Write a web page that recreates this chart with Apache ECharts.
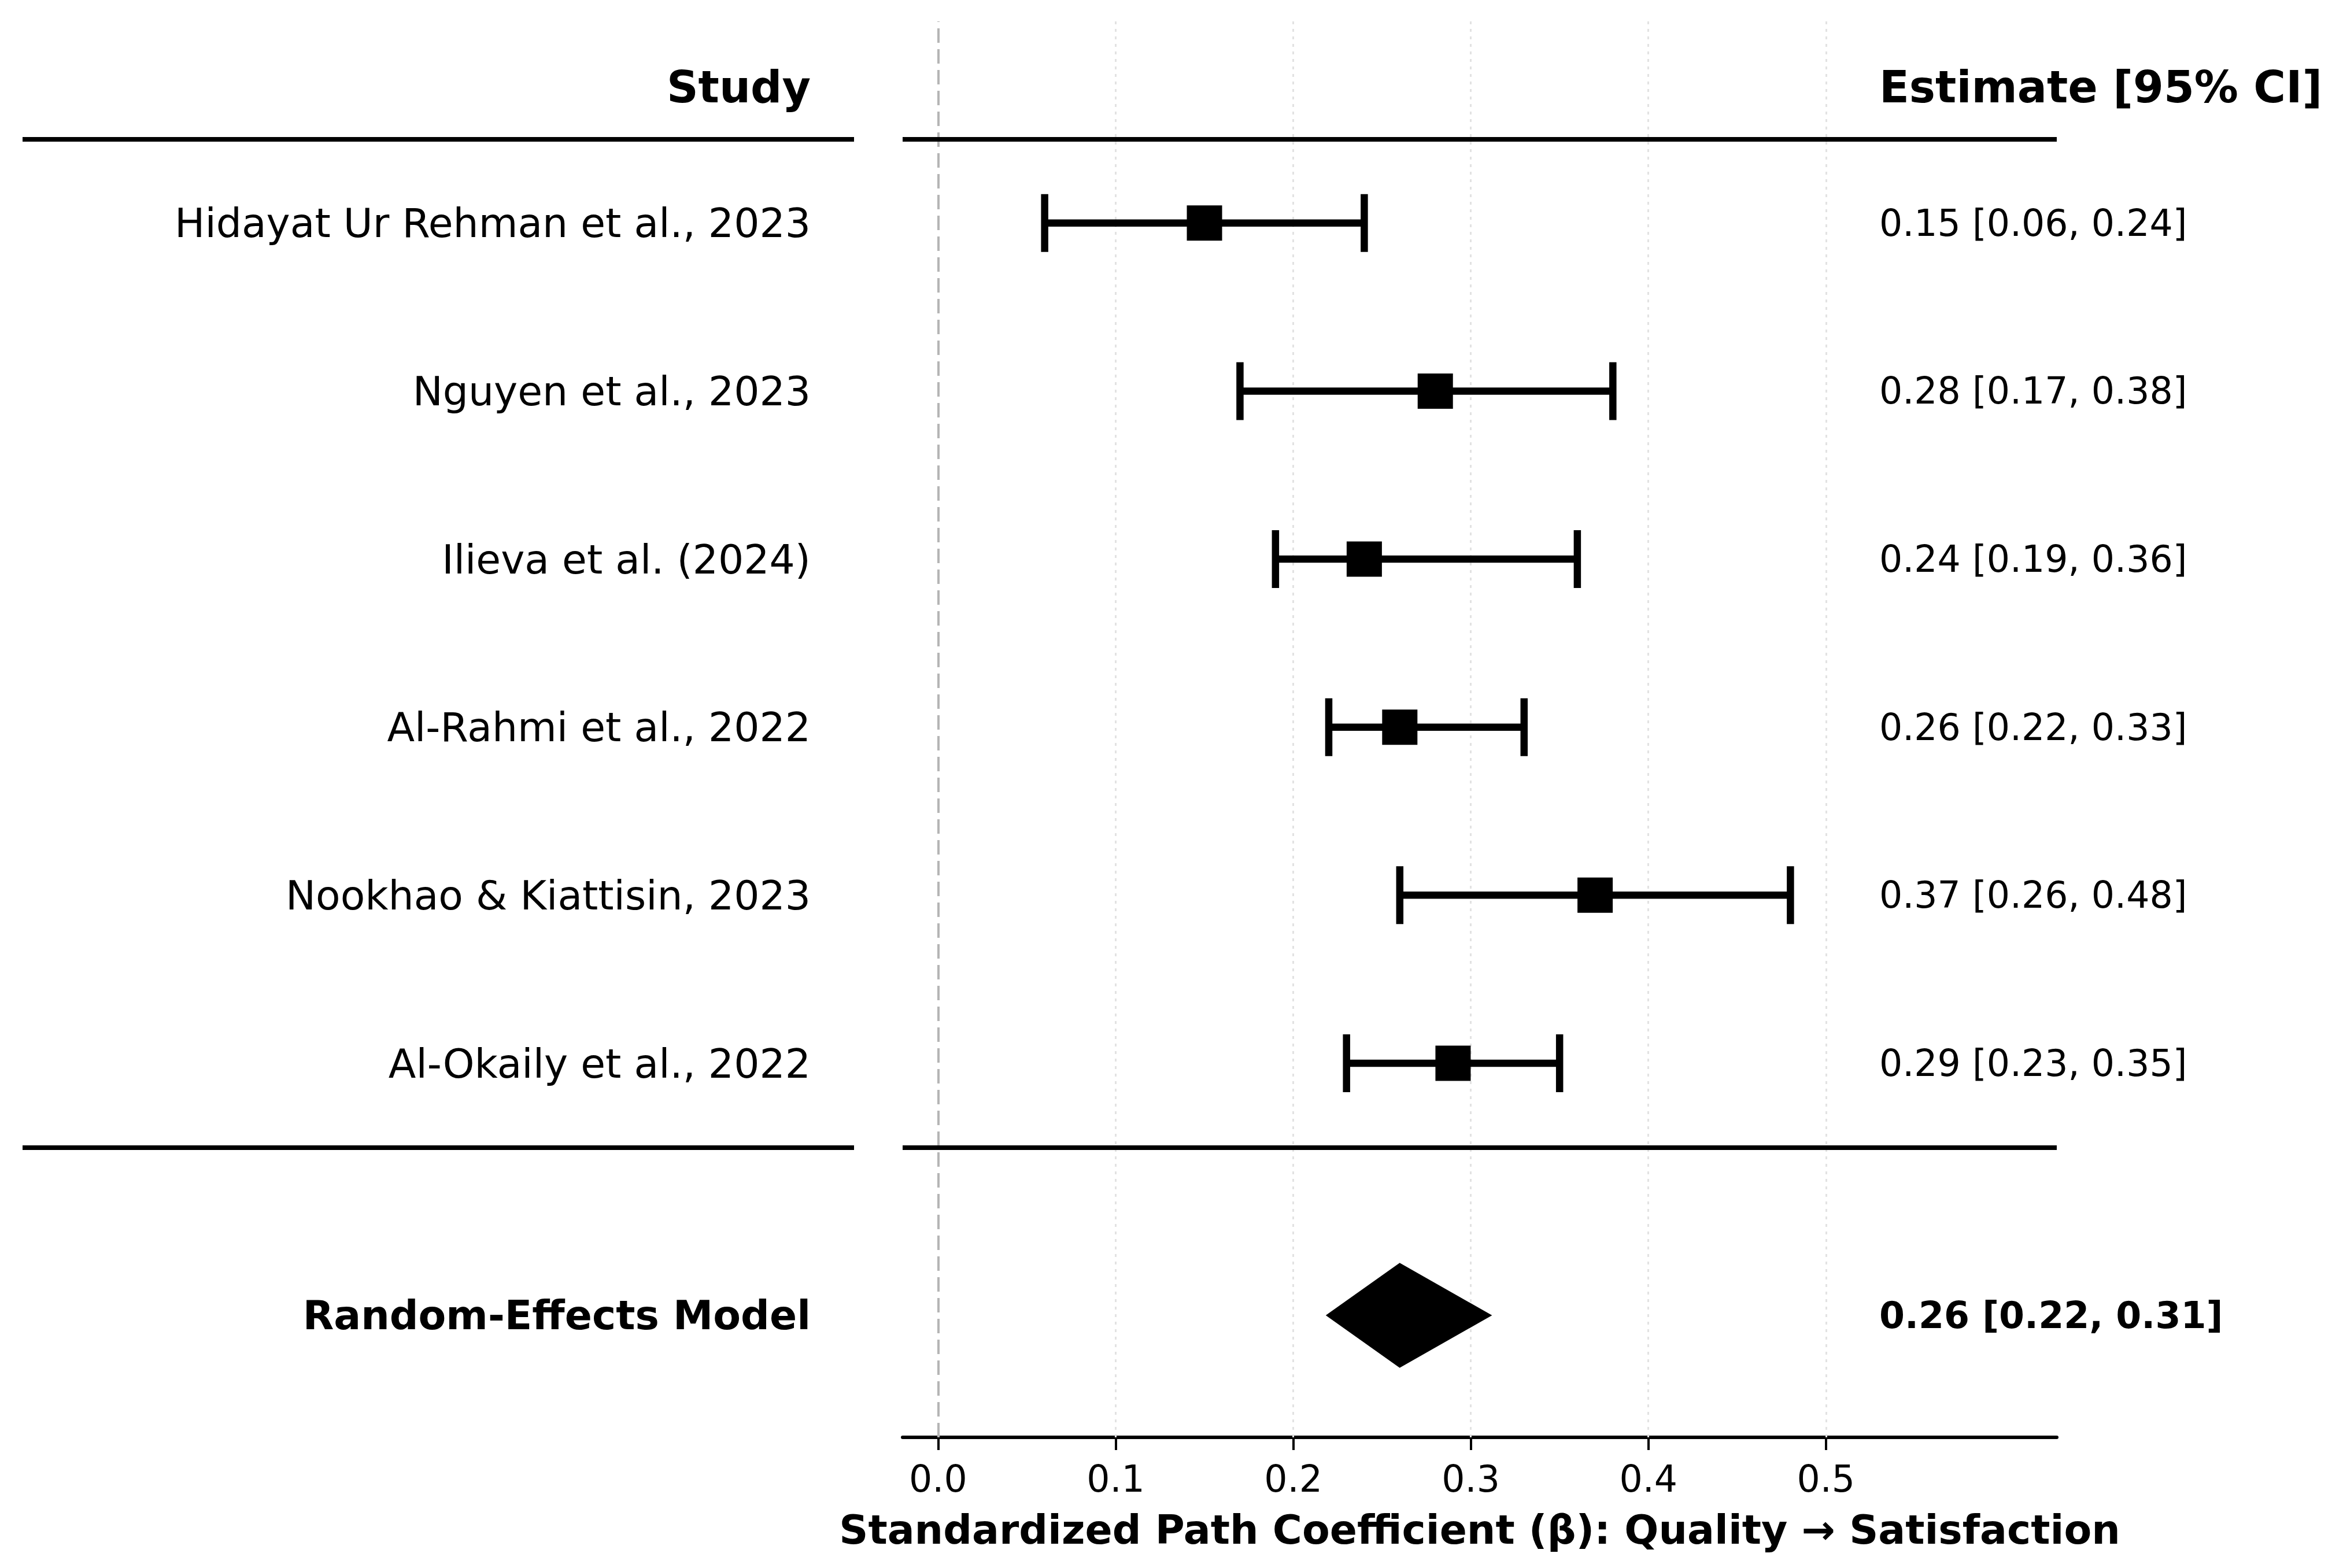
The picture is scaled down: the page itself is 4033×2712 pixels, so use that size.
<!DOCTYPE html>
<html><head><meta charset="utf-8">
<script src="https://cdn.jsdelivr.net/npm/echarts@6.0.0/dist/echarts.min.js"></script>
<style>html,body{margin:0;padding:0;background:#fff}#c{width:4033px;height:2712px}</style>
</head><body><div id="c"></div>
<script>
// ---- data ----
const studies = ['Hidayat Ur Rehman et al., 2023','Nguyen et al., 2023','Ilieva et al. (2024)','Al-Rahmi et al., 2022','Nookhao & Kiattisin, 2023','Al-Okaily et al., 2022'];
const estimates = [0.15, 0.28, 0.24, 0.26, 0.37, 0.29];
const lowerCI   = [0.06, 0.17, 0.19, 0.22, 0.26, 0.23];
const upperCI   = [0.24, 0.38, 0.36, 0.33, 0.48, 0.35];
const pooledLabel = 'Random-Effects Model';
const pooledEstimate = [0.26];
const pooledLower = [0.22];
const pooledUpper = [0.31];
const xTicks = [0.0, 0.1, 0.2, 0.3, 0.4, 0.5];
const headerStudy = 'Study';
const headerEstimate = 'Estimate [95% CI]';
const xAxisTitle = 'Standardized Path Coefficient (\u03b2): Quality \u2192 Satisfaction';

// ---- layout ----
const FONT = 'DejaVu Sans';
const F12 = 76, F11 = 69.6, F10 = 63.3;
const Y_MIN = 0.774, Y_MAX = 9.2;
const X_MIN = -0.02, X_MAX = 0.63;
const rowY = i => 8 - i;
const pooledY = 1.5;
const headerY = 8.81;
const sepYs = [8.5, 2.5];
const textX = 0.53;
const fmt = v => v.toFixed(2);
const ciText = (e, l, u) => fmt(e) + ' [' + fmt(l) + ', ' + fmt(u) + ']';

const labelMap = {};
labelMap[headerY] = '{h|' + headerStudy + '}';
studies.forEach((s, i) => { labelMap[rowY(i)] = s; });
labelMap[pooledY] = '{b|' + pooledLabel + '}';
const labelValues = [headerY].concat(studies.map((s, i) => rowY(i))).concat([pooledY]);

const estTexts = [{y: headerY, t: headerEstimate, size: F12, w: 'bold'}]
  .concat(studies.map((s, i) => ({y: rowY(i), t: ciText(estimates[i], lowerCI[i], upperCI[i]), size: F10, w: 'normal'})))
  .concat([{y: pooledY, t: ciText(pooledEstimate[0], pooledLower[0], pooledUpper[0]), size: F10, w: 'bold'}]);

const chart = echarts.init(document.getElementById('c'), null, {renderer: 'svg'});
const option = {
  animation: false,
  backgroundColor: '#fff',
  grid: [
    {left: 1561, right: 476, top: 37, bottom: 226},
    {left: 39, width: 1438, top: 37, bottom: 226}
  ],
  xAxis: [
    {
      gridIndex: 0, type: 'value', min: X_MIN, max: X_MAX,
      axisLine: {show: true, onZero: false, lineStyle: {color: '#000', width: 6}},
      axisTick: {show: true, customValues: xTicks, length: 22, lineStyle: {color: '#000', width: 4}},
      axisLabel: {show: true, customValues: xTicks, formatter: v => v.toFixed(1), fontSize: F10, fontFamily: FONT, color: '#000', margin: 40},
      splitLine: {show: false},
      name: xAxisTitle, nameLocation: 'middle', nameGap: 124,
      nameTextStyle: {fontSize: F11, fontWeight: 'bold', fontFamily: FONT, color: '#000'}
    },
    {gridIndex: 1, type: 'value', min: 0, max: 1, show: false}
  ],
  yAxis: [
    {
      gridIndex: 0, type: 'value', min: Y_MIN, max: Y_MAX,
      axisLine: {show: false}, axisTick: {show: false}, splitLine: {show: false},
      axisLabel: {
        show: true, customValues: labelValues, margin: 159,
        formatter: v => labelMap[v] !== undefined ? labelMap[v] : '',
        fontSize: F11, fontFamily: FONT, color: '#000',
        rich: {
          h: {fontSize: F12, fontWeight: 'bold', fontFamily: FONT, color: '#000'},
          b: {fontSize: F11, fontWeight: 'bold', fontFamily: FONT, color: '#000'}
        }
      }
    },
    {gridIndex: 1, type: 'value', min: Y_MIN, max: Y_MAX, show: false}
  ],
  series: [
    {
      type: 'line', xAxisIndex: 1, yAxisIndex: 1, data: [], symbol: 'none', silent: true, z: 1,
      markLine: {
        z: 1, silent: true, symbol: 'none', label: {show: false}, animation: false,
        lineStyle: {color: '#000', width: 8, type: 'solid'},
        data: sepYs.map(v => ({yAxis: v}))
      }
    },
    {
      type: 'line', xAxisIndex: 0, yAxisIndex: 0, data: [], symbol: 'none', silent: true, z: 1,
      markLine: {
        z: 1, silent: true, symbol: 'none', label: {show: false}, animation: false,
        data: xTicks.filter(v => v !== 0).map(v => ({xAxis: v, lineStyle: {color: '#e2e2e2', width: 3, type: [5, 8]}}))
          .concat([{xAxis: 0, lineStyle: {color: '#b5b5b5', width: 4, type: [25, 11]}}])
          .concat(sepYs.map(v => ({yAxis: v, lineStyle: {color: '#000', width: 8, type: 'solid'}})))
      }
    },
    {
      type: 'custom', xAxisIndex: 0, yAxisIndex: 0, z: 3, silent: true,
      data: studies.map((s, i) => [lowerCI[i], upperCI[i], rowY(i)]),
      encode: {x: [0, 1], y: 2},
      renderItem: (params, api) => {
        const y = api.value(2);
        const p1 = api.coord([api.value(0), y]);
        const p2 = api.coord([api.value(1), y]);
        const cap = 50, lw = 12.5;
        const st = {stroke: '#000', lineWidth: lw};
        return {type: 'group', children: [
          {type: 'line', shape: {x1: p1[0], y1: p1[1], x2: p2[0], y2: p2[1]}, style: st},
          {type: 'line', shape: {x1: p1[0], y1: p1[1] - cap, x2: p1[0], y2: p1[1] + cap}, style: st},
          {type: 'line', shape: {x1: p2[0], y1: p2[1] - cap, x2: p2[0], y2: p2[1] + cap}, style: st}
        ]};
      }
    },
    {
      type: 'scatter', xAxisIndex: 0, yAxisIndex: 0, z: 4, silent: true,
      symbol: 'rect', symbolSize: 61, itemStyle: {color: '#000', opacity: 1},
      data: estimates.map((e, i) => [e, rowY(i)])
    },
    {
      type: 'custom', xAxisIndex: 0, yAxisIndex: 0, z: 4, silent: true,
      data: pooledEstimate.map((e, i) => [pooledLower[i], pooledUpper[i], e, pooledY]),
      encode: {x: [0, 1, 2], y: 3},
      renderItem: (params, api) => {
        const y = api.value(3), h = 0.3;
        const L = api.coord([api.value(0), y]);
        const R = api.coord([api.value(1), y]);
        const T = api.coord([api.value(2), y + h]);
        const B = api.coord([api.value(2), y - h]);
        return {type: 'polygon', shape: {points: [L, T, R, B]}, style: {fill: '#000', stroke: '#000', lineWidth: 6, lineJoin: 'miter', miterLimit: 10}};
      }
    },
    {
      type: 'custom', xAxisIndex: 0, yAxisIndex: 0, z: 5, silent: true, clip: false,
      data: estTexts.map(d => [textX, d.y]),
      encode: {x: 0, y: 1},
      renderItem: (params, api) => {
        const d = estTexts[params.dataIndex];
        const p = api.coord([api.value(0), api.value(1)]);
        return {type: 'text', x: p[0], y: p[1], style: {
          text: d.t, fill: '#000', fontSize: d.size, fontWeight: d.w, fontFamily: FONT,
          align: 'left', verticalAlign: 'middle'
        }};
      }
    }
  ]
};
chart.setOption(option);
</script>
</body></html>
